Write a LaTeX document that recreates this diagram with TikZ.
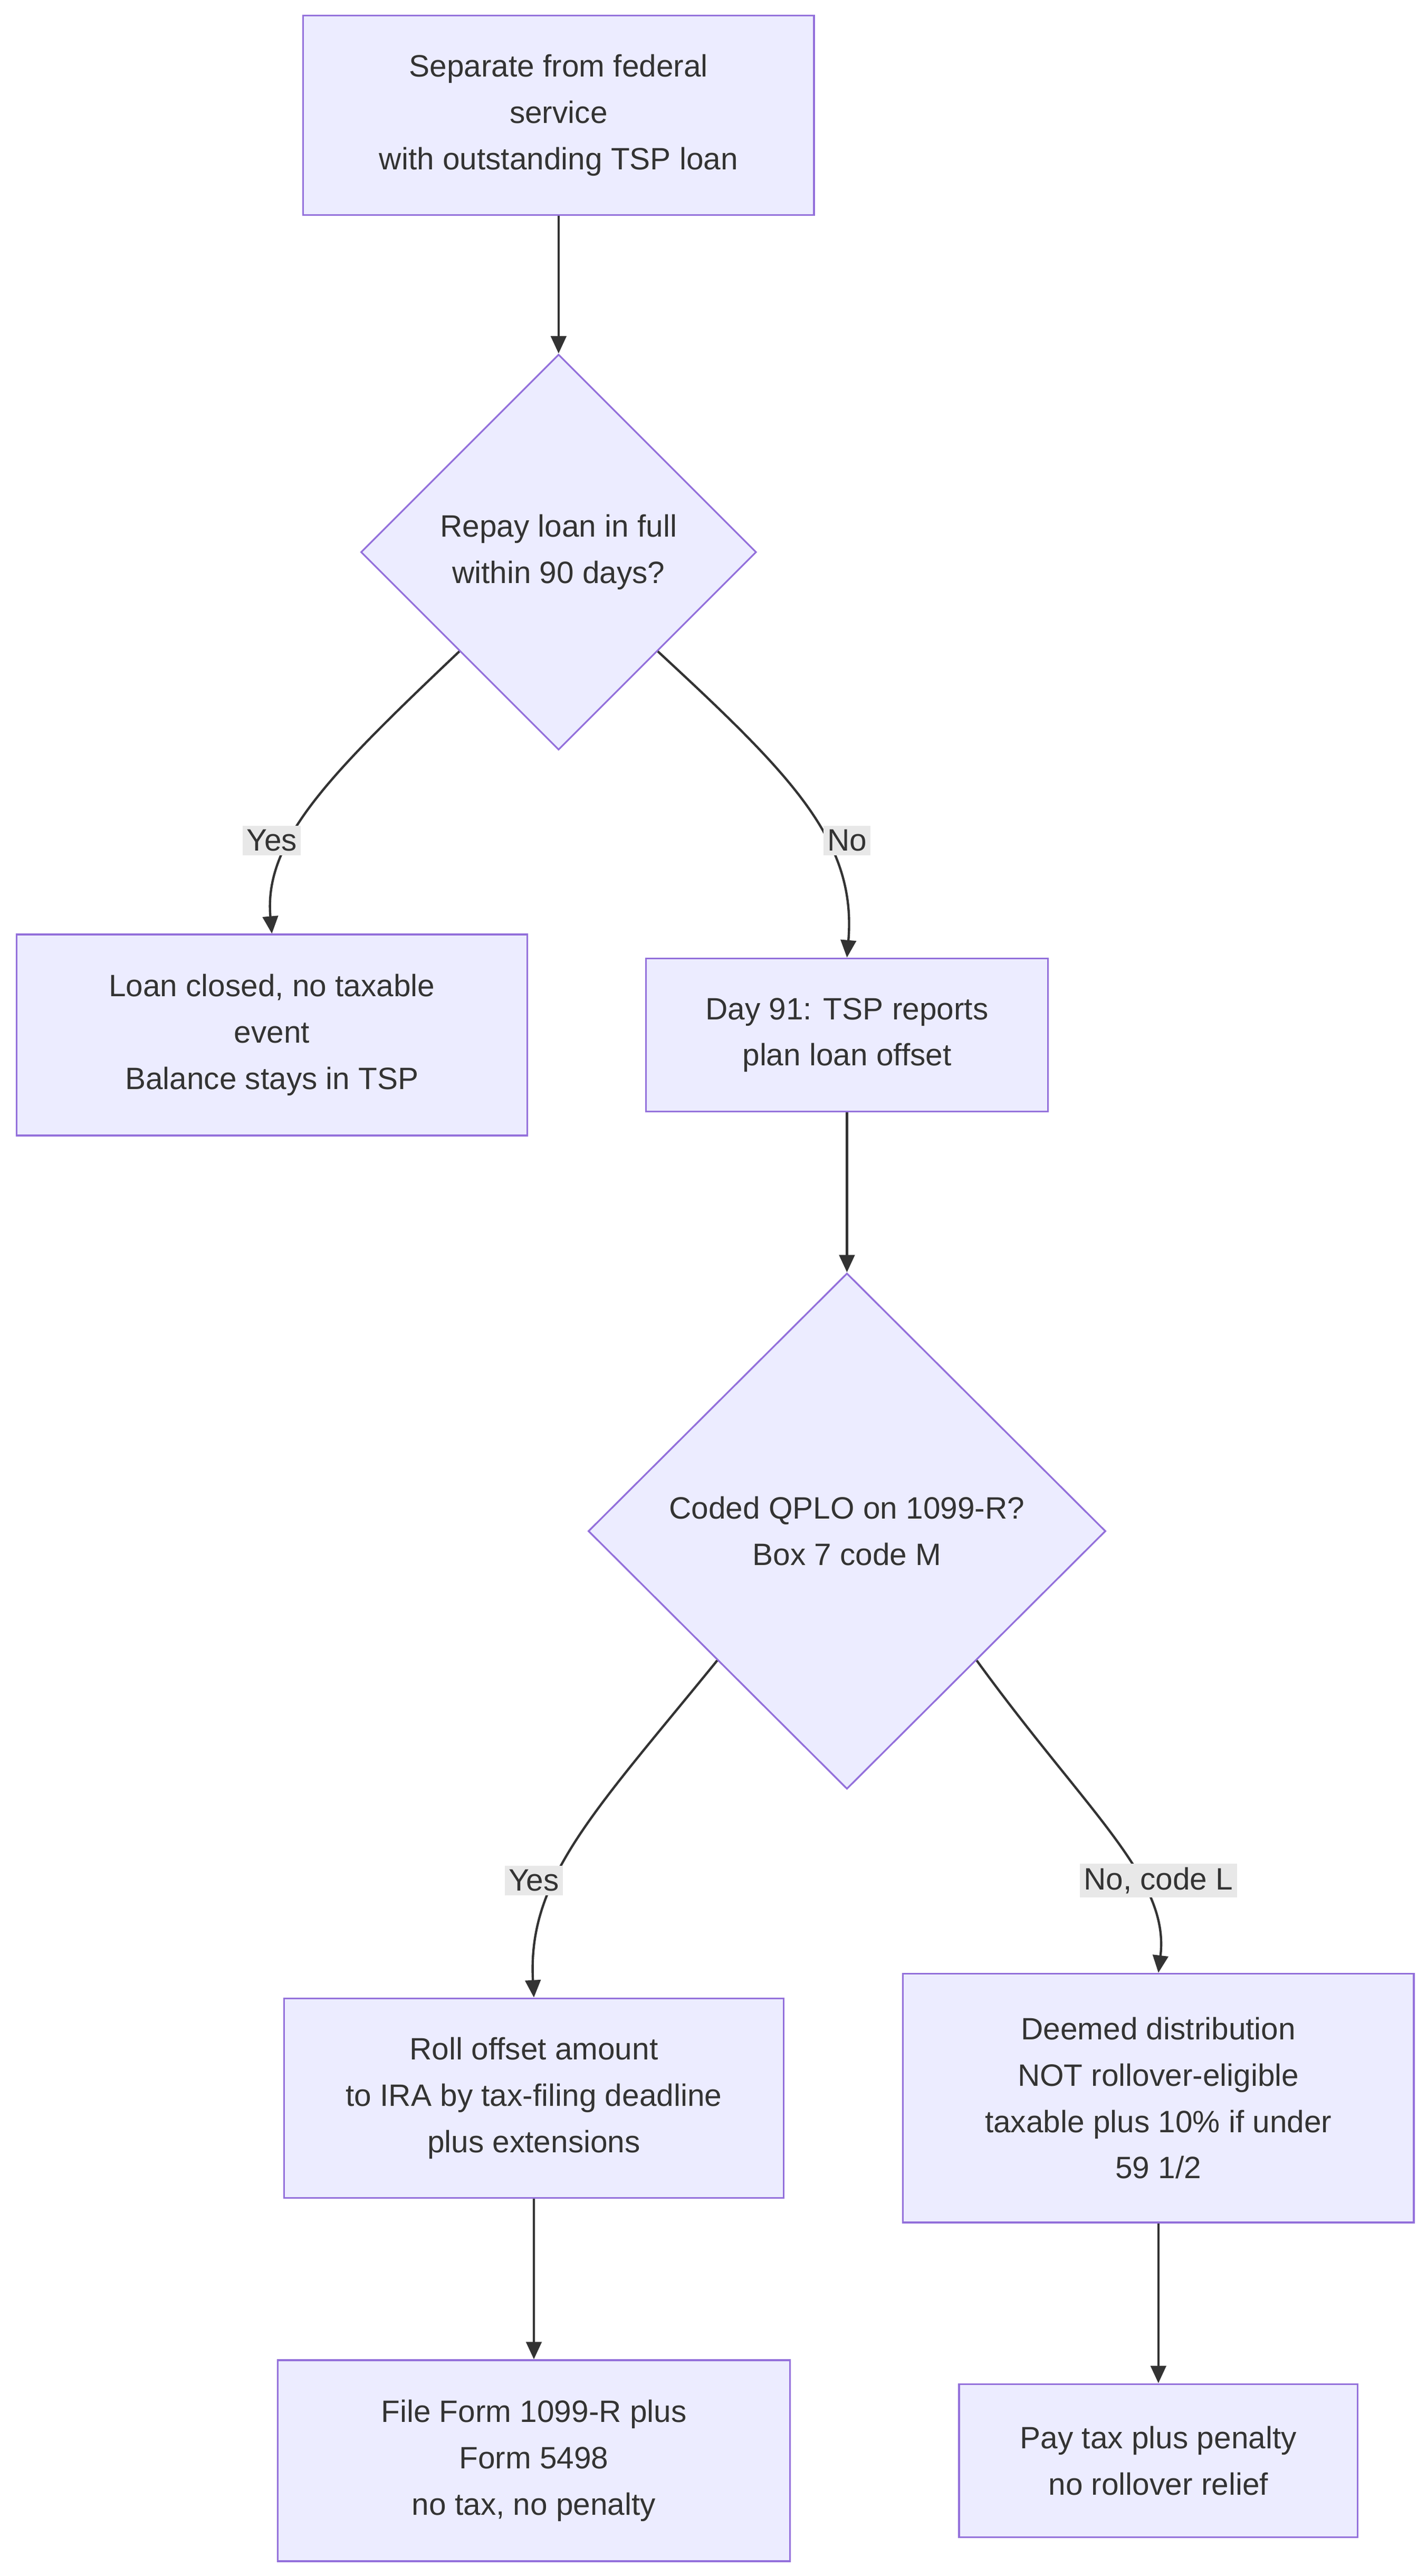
\documentclass[tikz,border=0pt]{standalone}
\usepackage{fontspec}
\setmainfont{Liberation Sans}
\usetikzlibrary{arrows.meta,shapes.geometric}
\definecolor{boxfill}{HTML}{ECECFF}
\definecolor{boxline}{HTML}{9370DB}
\definecolor{ink}{HTML}{333333}
\definecolor{lblbg}{HTML}{E8E8E8}
\tikzset{
  stepbox/.style={draw=boxline, fill=boxfill, line width=0.9pt, align=center,
    inner sep=0pt, text=ink, font=\fontsize{16pt}{24pt}\selectfont},
  choice/.style={draw=boxline, fill=boxfill, line width=0.9pt, shape=diamond,
    shape aspect=1, inner sep=0pt},
  flow/.style={draw=ink, line width=1.2pt, -{Triangle[length=9pt,width=8pt]}},
  answer/.style={fill=lblbg, text=ink, inner sep=2pt, font=\fontsize{16pt}{20pt}\selectfont}
}
\begin{document}
\begin{tikzpicture}[x=0.03cm,y=-0.03cm]
  \useasboundingbox (0,0) rectangle (866,1563);

  \node[stepbox, minimum width=310*0.03cm, minimum height=121*0.03cm] (separate) at (339,70)
    {Separate from federal\\service\\with outstanding TSP loan};
  \node[choice, minimum width=240*0.03cm, minimum height=240*0.03cm,
    label={[align=center, text=ink, font=\fontsize{16pt}{24pt}\selectfont]center:Repay loan in full\\within 90 days?}] (repay) at (339,335) {};
  \node[stepbox, minimum width=310*0.03cm, minimum height=122*0.03cm] (closed) at (165,628)
    {Loan closed, no taxable\\event\\Balance stays in TSP};
  \node[stepbox, minimum width=244*0.03cm, minimum height=93*0.03cm] (offset) at (514,628)
    {Day 91: TSP reports\\plan loan offset};
  \node[choice, minimum width=314*0.03cm, minimum height=313*0.03cm,
    label={[align=center, text=ink, font=\fontsize{16pt}{24pt}\selectfont]center:Coded QPLO on 1099-R?\\Box 7 code M}] (coded) at (514,929) {};
  \node[stepbox, minimum width=303*0.03cm, minimum height=121*0.03cm] (roll) at (324,1273)
    {Roll offset amount\\to IRA by tax-filing deadline\\plus extensions};
  \node[stepbox, minimum width=310*0.03cm, minimum height=151*0.03cm] (deemed) at (703,1273)
    {Deemed distribution\\NOT rollover-eligible\\taxable plus 10\% if under\\59 1/2};
  \node[stepbox, minimum width=311*0.03cm, minimum height=122*0.03cm] (file) at (324,1493)
    {File Form 1099-R plus\\Form 5498\\no tax, no penalty};
  \node[stepbox, minimum width=242*0.03cm, minimum height=93*0.03cm] (pay) at (703,1493)
    {Pay tax plus penalty\\no rollover relief};

  % edges
  \draw[flow] (separate) -- (repay);
  \draw[flow] (repay.south west) .. controls (200,470) and (160,510) .. (closed.north);
  \draw[flow] (repay.south east) .. controls (480,470) and (520,510) .. (offset.north);
  \draw[flow] (offset) -- (coded);
  \draw[flow] (coded.south west) .. controls (360,1100) and (320,1140) .. (roll.north);
  \draw[flow] (coded.south east) .. controls (660,1100) and (710,1140) .. (deemed.north);
  \draw[flow] (roll) -- (file);
  \draw[flow] (deemed) -- (pay);

  % answers
  \node[answer] (yesA) at (165,510) {Yes};
  \node[answer] (noA) at (514,510) {No};
  \node[answer] (yesB) at (324,1141) {Yes};
  \node[answer] (noB) at (703,1141) {No, code L};
\end{tikzpicture}
\end{document}
